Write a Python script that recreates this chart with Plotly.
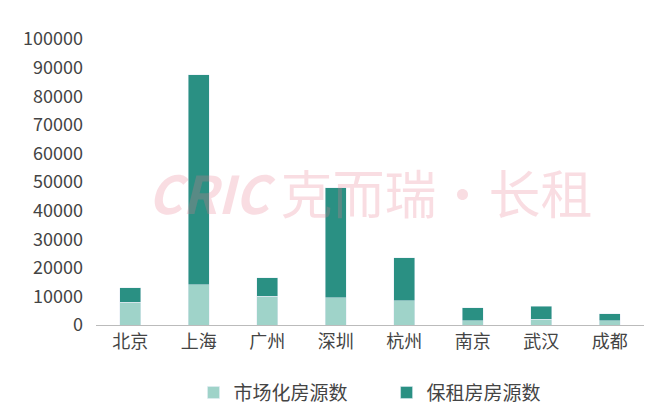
import plotly.graph_objects as go

cities = ["北京", "上海", "广州", "深圳", "杭州", "南京", "武汉", "成都"]
market = [8000, 14000, 10000, 9500, 8500, 1500, 2000, 1500]
rental = [5000, 73500, 6500, 38500, 15000, 4500, 4500, 2500]

fig = go.Figure()
fig.add_trace(go.Bar(x=cities, y=market, name="市场化房源数        ", marker_color="#9fd3c9", width=0.3))
fig.add_trace(go.Bar(x=cities, y=rental, name="保租房房源数", marker_color="#2a9083", width=0.3))

fig.update_layout(
    barmode="stack",
    width=660, height=416,
    margin=dict(l=88, r=24, t=31, b=87),
    plot_bgcolor="white", paper_bgcolor="white",
    font=dict(family="Noto Sans CJK SC", size=18, color="#444"),
    legend=dict(orientation="h", traceorder="normal", x=0.5, xanchor="center", y=-0.17, yanchor="top",
                font=dict(size=19)),
    annotations=[dict(text="<i><b>CRIC</b></i> 克而瑞·长租", x=0.5, y=0.33, xref="paper", yref="paper",
                      showarrow=False, font=dict(size=52, color="rgba(230,120,140,0.25)"))],
)
fig.update_yaxes(range=[0, 100000], dtick=10000, showgrid=False, showline=False,
                 ticks="", tickformat="d", tickfont=dict(size=18), ticksuffix="   ")
fig.update_xaxes(showline=True, linecolor="#bbb", tickfont=dict(size=18))

fig.write_html("out.html")
